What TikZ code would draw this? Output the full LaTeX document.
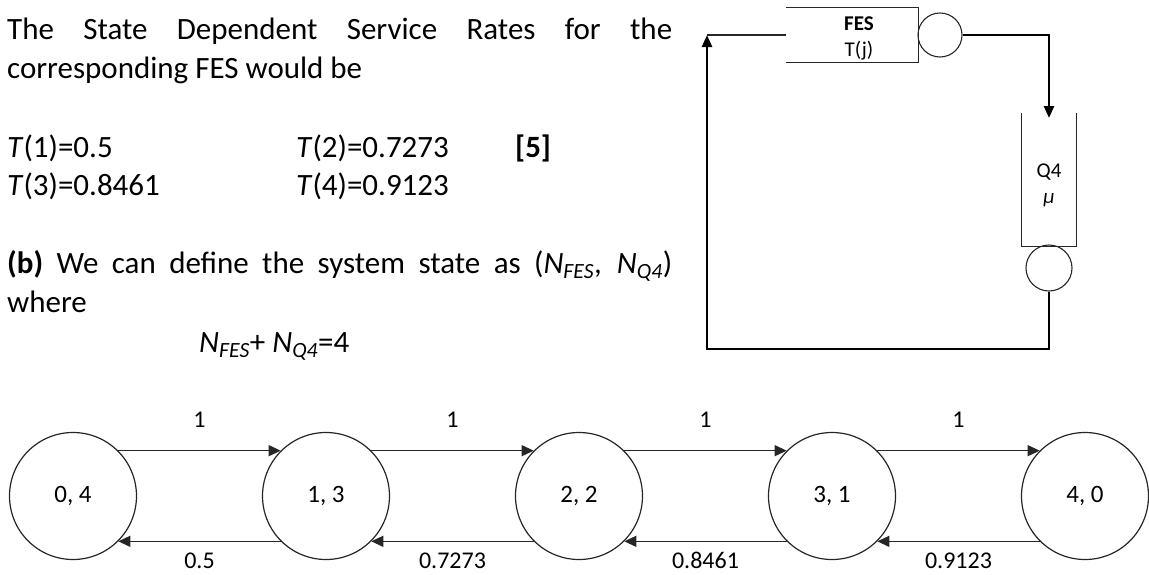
\documentclass[tikz,border=0pt]{standalone}
\usepackage{fontspec}
\setmainfont{Carlito}
\usetikzlibrary{arrows.meta}
\begin{document}
\begin{tikzpicture}[x=1pt,y=-1pt,
  body/.style={font=\fontsize{31}{38}\selectfont, inner sep=0pt, anchor=base west},
  netfont/.style={font=\fontsize{21}{25}\selectfont, inner sep=0pt},
  state/.style={circle, draw=black!85, line width=1.2pt, minimum size=127pt, inner sep=0pt, font=\fontsize{25}{30}\selectfont},
  trans/.style={draw=black!85, line width=1.3pt, -{Triangle[length=12pt,width=11pt]}},
  rate/.style={font=\fontsize{24}{29}\selectfont, inner sep=0pt, anchor=base},
  server/.style={circle, draw=black!85, line width=1.1pt, inner sep=0pt},
  thinline/.style={draw=black!85, line width=1.2pt},
  thickline/.style={draw=black, line width=2.6pt},
  tip/.style={-{Triangle[length=12pt,width=10pt]}}]
\useasboundingbox (0,0) rectangle (1149,574);

% text block
\node[body] (l1) at (7,39) {\makebox[665pt][s]{The State Dependent Service Rates for the}};
\node[body] (l2) at (7,78) {corresponding FES would be};
\node[body] (t1) at (7,157) {\textit{T}(1)=0.5};
\node[body] (t2) at (296,157) {\textit{T}(2)=0.7273};
\node[body] (mk) at (515,157) {\textbf{[5]}};
\node[body] (t3) at (7,195) {\textit{T}(3)=0.8461};
\node[body] (t4) at (296,195) {\textit{T}(4)=0.9123};
\node[body] (b1) at (7,273) {\makebox[665pt][s]{\textbf{(b)} We can define the system state as (\textit{N}\textsubscript{\textit{FES}}, \textit{N}\textsubscript{\textit{Q4}})}};
\node[body] (wh) at (7,312) {where};
\node[body] (eq) at (199,352) {\textit{N}\textsubscript{\textit{FES}}+ \textit{N}\textsubscript{\textit{Q4}}=4};

% closed network
\node[minimum width=132pt, minimum height=54pt, inner sep=0pt] (fes) at (852,35) {};
\draw[thinline] (fes.north west) -- (fes.north east) -- (fes.south east) -- (fes.south west);
\node[netfont] (fesname) at (859,24) {\textbf{FES}};
\node[netfont] (fesrate) at (859,51) {T(j)};
\node[server, minimum size=44pt] (fess) at (940,35) {};

\node[minimum width=54pt, minimum height=133pt, inner sep=0pt] (q4) at (1049,179.5) {};
\draw[thinline] (q4.north west) -- (q4.south west) -- (q4.south east) -- (q4.north east);
\node[netfont] (q4name) at (1049,172) {Q4};
\node[netfont] (q4rate) at (1049,200) {\textit{μ}};
\node[server, minimum size=46pt] (q4s) at (1049,268) {};

\coordinate (q4in) at (1049,118);
\coordinate (c1) at (1049,349);
\coordinate (c2) at (707,349);
\coordinate (c3) at (707,35);
\draw[thickline, tip] (fess.east) -| (q4in);
\draw[thickline, tip] (q4s.south) -- (c1) -- (c2) -- (c3);
\draw[thinline] (c3) -- (fes.west);

% state diagram
\node[state] (s0) at (73,496) {0, 4};
\node[state] (s1) at (326,496) {1, 3};
\node[state] (s2) at (579,496) {2, 2};
\node[state] (s3) at (832,496) {3, 1};
\node[state] (s4) at (1085,496) {4, 0};

\draw[trans] (s0.45) -- (s1.135);
\draw[trans] (s1.45) -- (s2.135);
\draw[trans] (s2.45) -- (s3.135);
\draw[trans] (s3.45) -- (s4.135);
\draw[trans] (s1.-135) -- (s0.-45);
\draw[trans] (s2.-135) -- (s1.-45);
\draw[trans] (s3.-135) -- (s2.-45);
\draw[trans] (s4.-135) -- (s3.-45);

\node[rate] (u1) at (199.5,427) {1};
\node[rate] (u2) at (452.5,427) {1};
\node[rate] (u3) at (705.5,427) {1};
\node[rate] (u4) at (958.5,427) {1};
\node[rate] (d1) at (199.5,568) {0.5};
\node[rate] (d2) at (452.5,568) {0.7273};
\node[rate] (d3) at (705.5,568) {0.8461};
\node[rate] (d4) at (958.5,568) {0.9123};
\end{tikzpicture}
\end{document}
